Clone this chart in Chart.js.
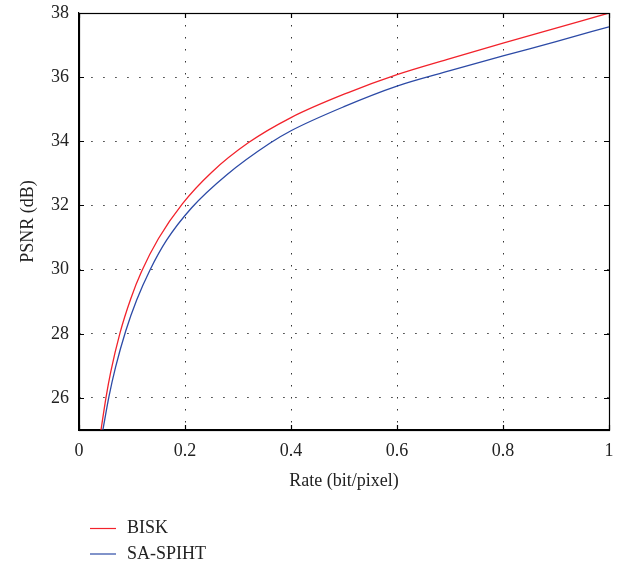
<!DOCTYPE html>
<html>
<head>
<meta charset="utf-8">
<script src="https://cdn.jsdelivr.net/npm/chart.js@4.4.1/dist/chart.umd.min.js"></script>
<style>
  html, body { margin: 0; padding: 0; background: #fff; }
  #wrap { width: 625px; height: 567px; }
</style>
</head>
<body>
<div id="wrap"><canvas id="psnr_graph"></canvas></div>
<script>
// rate-distortion curves, PSNR (dB) against rate (bit/pixel)
const biskRate = [0.0415, 0.051, 0.060, 0.0774, 0.098, 0.118, 0.150, 0.195, 0.250, 0.320, 0.400, 0.508, 0.600, 0.700, 0.800, 0.900, 1.0];
const biskPsnr = [25, 26.02, 26.82, 28.03, 29.11, 29.94, 30.97, 32.05, 33.03, 33.96, 34.74, 35.52, 36.08, 36.58, 37.06, 37.53, 38];

const spihtRate = [0.045, 0.0566, 0.069, 0.088, 0.109, 0.134, 0.165, 0.2126, 0.279, 0.360, 0.400, 0.500, 0.600, 0.700, 0.800, 0.900, 1.0];
const spihtPsnr = [25, 26.05, 26.96, 28.08, 29.06, 29.99, 30.91, 31.93, 32.96, 33.94, 34.33, 35.08, 35.72, 36.2, 36.66, 37.11, 37.57];

const xTicks = [0, 0.2, 0.4, 0.6, 0.8, 1];
const yTicks = [26, 28, 30, 32, 34, 36, 38];

const FONT = "'Liberation Serif', 'DejaVu Serif', serif";
const TEXT = '#222';

function points(xs, ys) {
    return xs.map((x, i) => ({x: x, y: ys[i]}));
}

// box round the plot, inward tick marks and the legend under the axis
const frame = {
    id: 'frame',
    afterDraw(chart) {
        const c = chart.ctx;
        const a = chart.chartArea;
        const xs = chart.scales.x, ys = chart.scales.y;
        c.save();
        c.strokeStyle = '#000';
        c.lineWidth = 1.2;
        c.beginPath();
        xs.ticks.forEach(t => {
            const px = Math.round(xs.getPixelForValue(t.value)) + 0.5;
            c.moveTo(px, a.bottom); c.lineTo(px, a.bottom - 5);
            c.moveTo(px, a.top); c.lineTo(px, a.top + 5);
        });
        ys.ticks.forEach(t => {
            const py = Math.round(ys.getPixelForValue(t.value)) + 0.5;
            c.moveTo(a.left, py); c.lineTo(a.left + 5, py);
            c.moveTo(a.right, py); c.lineTo(a.right - 5, py);
        });
        c.stroke();
        c.strokeRect(Math.round(a.left) + 0.5, Math.round(a.top) + 0.5,
                     Math.round(a.right - a.left), Math.round(a.bottom - a.top));

        c.font = '18px ' + FONT;
        c.textBaseline = 'middle';
        c.textAlign = 'left';
        chart.data.datasets.forEach((ds, i) => {
            const y = 528.5 + i * 25.5;
            c.strokeStyle = ds.borderColor;
            c.lineWidth = 1.2;
            c.beginPath();
            c.moveTo(90, y); c.lineTo(116, y);
            c.stroke();
            c.fillStyle = TEXT;
            c.fillText(ds.label, 127, y);
        });
        c.restore();
    }
};

const ctx = document.getElementById('psnr_graph').getContext('2d');

const psnr_graph = new Chart(ctx, {
    type: 'scatter',
    data: {
        datasets: [{
            label: 'BISK',
            borderColor: '#f2222b',
            backgroundColor: '#f2222b',
            data: points(biskRate, biskPsnr),
        },
        {
            label: 'SA-SPIHT',
            borderColor: '#2c4aa6',
            backgroundColor: '#2c4aa6',
            data: points(spihtRate, spihtPsnr),
        }]
    },
    options: {
        responsive: true,
        maintainAspectRatio: false,
        animation: false,
        showLine: true,
        elements: {
            point: { radius: 0, hoverRadius: 0 },
            line: { borderWidth: 1.3, cubicInterpolationMode: 'monotone' }
        },
        layout: { padding: { left: 0, top: 13, right: 16, bottom: 0 } },
        plugins: {
            legend: { display: false },
            tooltip: { enabled: false }
        },
        scales: {
            x: {
                type: 'linear',
                min: 0,
                max: 1,
                afterBuildTicks: s => { s.ticks = xTicks.map(v => ({value: v})); },
                afterFit: s => { s.height = 137; s.paddingLeft = 0; s.paddingRight = 0; },
                ticks: {
                    color: TEXT,
                    font: { family: FONT, size: 18 },
                    padding: 10,
                    maxRotation: 0,
                    callback: v => String(v)
                },
                grid: { color: '#333', lineWidth: 1, drawTicks: false },
                border: { display: true, color: '#000', width: 1.2, dash: [1.5, 10.5] },
                title: {
                    display: true,
                    text: 'Rate (bit/pixel)',
                    color: TEXT,
                    font: { family: FONT, size: 18 },
                    padding: { top: 0, bottom: 75 }
                }
            },
            y: {
                type: 'linear',
                min: 25,
                max: 38,
                afterBuildTicks: s => { s.ticks = yTicks.map(v => ({value: v})); },
                afterFit: s => { s.width = 79; s.paddingTop = 0; s.paddingBottom = 0; },
                ticks: {
                    color: TEXT,
                    font: { family: FONT, size: 18 },
                    padding: 10
                },
                grid: { color: '#333', lineWidth: 1, drawTicks: false },
                border: { display: true, color: '#000', width: 1.2, dash: [1.5, 10.5] },
                title: {
                    display: true,
                    text: 'PSNR (dB)',
                    color: TEXT,
                    font: { family: FONT, size: 18 },
                    padding: { top: 17, bottom: 0 }
                }
            }
        }
    },
    plugins: [frame]
});
</script>
</body>
</html>
